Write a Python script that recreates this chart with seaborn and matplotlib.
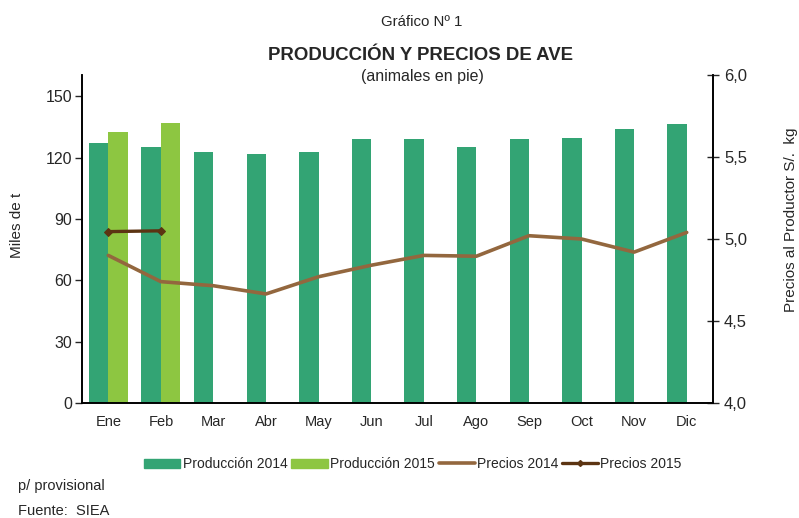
import numpy as np
import pandas as pd
import matplotlib
matplotlib.use("Agg")
import matplotlib.pyplot as plt
import seaborn as sns
from matplotlib.ticker import FixedLocator, FuncFormatter

# data
meses = ['Ene', 'Feb', 'Mar', 'Abr', 'May', 'Jun', 'Jul', 'Ago', 'Sep', 'Oct', 'Nov', 'Dic']
prod_2014 = [127.0, 125.5, 123.0, 122.0, 123.0, 129.0, 129.0, 125.5, 129.0, 129.5, 134.0, 136.5]
prod_2015 = [132.5, 137.0] + [np.nan] * 10
precio_2014 = [4.90, 4.74, 4.715, 4.665, 4.77, 4.84, 4.90, 4.895, 5.02, 5.00, 4.92, 5.04]
precio_2015 = [5.045, 5.05]

sns.set_style("white")
plt.rcParams['font.family'] = ['Liberation Sans', 'DejaVu Sans']

c14 = '#33a474'
c15 = '#8dc641'
cp14 = '#93673e'
cp15 = '#5c3412'

# long form table for the grouped bars
df = pd.DataFrame({
    'mes': meses * 2,
    'valor': prod_2014 + prod_2015,
    'serie': ['Producción 2014'] * 12 + ['Producción 2015'] * 12,
})

fig = plt.figure(figsize=(7.99, 5.18), dpi=100)
ax = fig.add_axes([82 / 799, 1 - 403 / 518, (713 - 82) / 799, (403 - 75) / 518])

sns.barplot(data=df, x='mes', y='valor', hue='serie', order=meses,
            palette=[c14, c15], width=0.74, saturation=1, linewidth=0,
            ax=ax, legend=False)
ax.set_xlim(-0.5, 11.5)
ax.set_ylim(0, 160.5)
ax.set_yticks([0, 30, 60, 90, 120, 150])
ax.set_xlabel('')
ax.set_ylabel('Miles de t', fontsize=11)
ax.yaxis.set_label_coords(-0.092, 0.543)

# x ticks: labels at centres, tick marks at category boundaries
ax.tick_params(axis='x', which='major', length=0, labelsize=10.5, pad=16.5)
for lab in ax.get_xticklabels():
    lab.set_va('baseline')
ax.xaxis.set_minor_locator(FixedLocator(np.arange(-0.5, 12, 1)))
ax.tick_params(axis='x', which='minor', length=5, width=1, direction='out', color='black')
ax.tick_params(axis='y', length=5, width=1, direction='out', labelsize=11.5, left=True, pad=2)

for s in ['left', 'bottom', 'right']:
    ax.spines[s].set_color('black')
    ax.spines[s].set_linewidth(1.2)
ax.spines['top'].set_visible(False)

# prices on second axis
ax2 = ax.twinx()
x = np.arange(12)
sns.lineplot(x=x, y=precio_2014, ax=ax2, color=cp14, linewidth=2.6)
sns.lineplot(x=x[:2], y=precio_2015, ax=ax2, color=cp15, linewidth=2.4,
             marker='D', markersize=4, markeredgecolor=cp15)
ax2.set_ylim(4.0, 6.0)
ax2.set_yticks([4.0, 4.5, 5.0, 5.5, 6.0])
ax2.yaxis.set_major_formatter(FuncFormatter(lambda v, p: f'{v:.1f}'.replace('.', ',')))
ax2.tick_params(axis='y', length=8, width=1, direction='inout', labelsize=12, right=True, pad=4)
ax2.set_ylabel('Precios al Productor S/.  kg', fontsize=11)
ax2.yaxis.set_label_coords(1.112, 0.558)
for s in ['left', 'bottom', 'right']:
    ax2.spines[s].set_color('black')
    ax2.spines[s].set_linewidth(1.2)
ax2.spines['top'].set_visible(False)
ax2.grid(False)
ax.grid(False)

# titles
fig.text(0.528, 1 - 22 / 518, 'Gráfico Nº 1', ha='center', va='center', fontsize=10.8)
fig.text(0.526, 1 - 55 / 518, 'PRODUCCIÓN Y PRECIOS DE AVE', ha='center', va='center',
         fontsize=13.4, fontweight='bold')
fig.text(0.529, 1 - 76 / 518, '(animales en pie)', ha='center', va='center', fontsize=11.5)

# legend
handles = [
    plt.Rectangle((0, 0), 1, 1, color=c14),
    plt.Rectangle((0, 0), 1, 1, color=c15),
    plt.Line2D([], [], color=cp14, linewidth=2.6),
    plt.Line2D([], [], color=cp15, linewidth=2.4, marker='D', markersize=3),
]
labels = ['Producción 2014', 'Producción 2015', 'Precios 2014', 'Precios 2015']
fig.legend(handles, labels, loc='center', bbox_to_anchor=(0.517, 1 - 464 / 518), ncol=4,
           frameon=False, fontsize=10, handlelength=2.6, handleheight=0.6,
           handletextpad=0.15, columnspacing=0.3)

# footnotes
fig.text(18 / 799, 1 - 486 / 518, 'p/ provisional', ha='left', va='center', fontsize=10.5)
fig.text(18 / 799, 1 - 511 / 518, 'Fuente:  SIEA', ha='left', va='center', fontsize=10.5)

fig.savefig('out.png', dpi=100)
